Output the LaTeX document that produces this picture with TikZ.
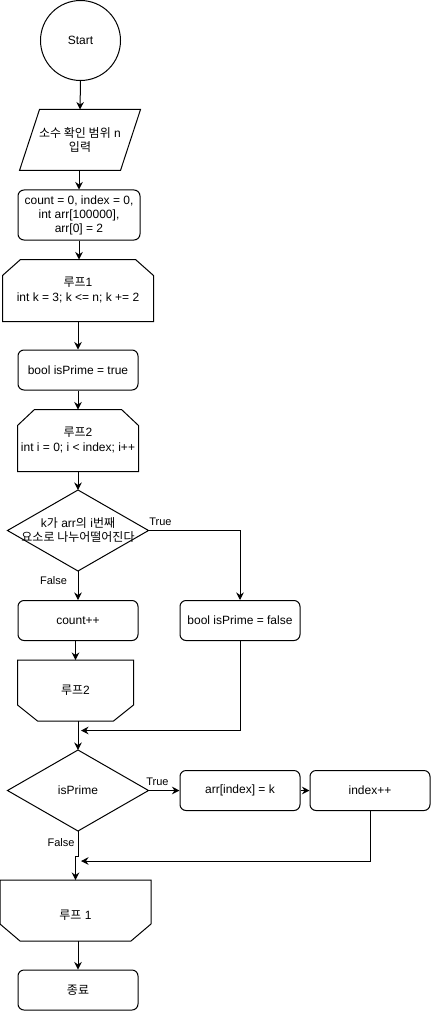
\documentclass[tikz,border=0pt]{standalone}
\usepackage{fontspec}
\setmainfont{Liberation Sans}
\newfontfamily\kr{Noto Sans CJK KR}
\newcommand\K[1]{{\kr #1}}
\usetikzlibrary{arrows.meta}
\begin{document}
\begin{tikzpicture}[x=1pt,y=-1pt,line width=1pt,
  txt/.style={font=\fontsize{12}{14}\selectfont,align=center,inner sep=1pt},
  proc/.style={txt,draw,rounded corners=6pt,minimum width=120pt,minimum height=40pt},
  lbl/.style={font=\fontsize{11}{13}\selectfont,inner sep=0pt},
  arr/.style={-{Stealth[length=7.5pt,width=7.5pt,inset=2.5pt]}},
  shp/.style={draw,line join=miter}]
\useasboundingbox (0,0) rectangle (431,1011);

% Start
\node[txt,circle,draw,minimum size=80pt,inner sep=0pt] (start) at (80.5,40.5) {Start};

% input parallelogram
\node[txt,minimum width=120pt,minimum height=60pt] (inp) at (80,140) {\K{소수 확인 범위} n\\\K{입력}};
\draw[shp] (inp.south west) -- ([xshift=20pt]inp.north west) -- (inp.north east) -- ([xshift=-20pt]inp.south east) -- cycle;

% init
\node[proc,minimum width=122pt,minimum height=50pt] (init) at (79,215) {count = 0, index = 0,\\int arr[100000],\\arr[0] = 2};

% loop1 start
\node[txt,minimum width=150pt,minimum height=61pt] (l1) at (78,290.5) {\K{루프}1\\[1pt]int k = 3; k <= n; k += 2};
\draw[shp] ([yshift=-16pt]l1.north west) -- ([xshift=18pt]l1.north west) -- ([xshift=-18pt]l1.north east) -- ([yshift=-16pt]l1.north east) -- (l1.south east) -- (l1.south west) -- cycle;

% bool isPrime = true
\node[proc] (b1) at (78,370) {bool isPrime = true};

% loop2 start
\node[txt,minimum width=120pt,minimum height=61pt] (l2) at (78,440.5) {\K{루프}2\\[1pt]int i = 0; i < index; i++};
\draw[shp] ([yshift=-16pt]l2.north west) -- ([xshift=17pt]l2.north west) -- ([xshift=-17pt]l2.north east) -- ([yshift=-16pt]l2.north east) -- (l2.south east) -- (l2.south west) -- cycle;

% decision 1
\node[txt,minimum width=140pt,minimum height=80pt] (d1) at (78,530.5) {k\K{가} arr\K{의} i\K{번째}\\\K{요소로 나누어떨어진다}};
\draw[shp] (d1.north) -- (d1.east) -- (d1.south) -- (d1.west) -- cycle;

% branches
\node[proc] (pf) at (240,620.5) {bool isPrime = false};
\node[proc] (cnt) at (78,620.5) {count++};

% loop2 end
\node[txt,minimum width=115pt,minimum height=60pt] (l2e) at (75.5,690.5) {\K{루프}2};
\draw[shp] (l2e.north west) -- (l2e.north east) -- ([yshift=16pt]l2e.south east) -- ([xshift=-20pt]l2e.south east) -- ([xshift=20pt]l2e.south west) -- ([yshift=16pt]l2e.south west) -- cycle;

% decision 2
\node[txt,minimum width=140pt,minimum height=80pt] (d2) at (78,790.5) {isPrime};
\draw[shp] (d2.north) -- (d2.east) -- (d2.south) -- (d2.west) -- cycle;

\node[proc] (ar) at (240,790.5) {arr[index] = k};
\node[proc] (inc) at (370,790.5) {index++};

% loop1 end
\node[txt,minimum width=150pt,minimum height=60pt] (l1e) at (75.5,910.5) {};
\node[txt] (l1et) at ([yshift=-5pt]l1e.center) {\K{루프} 1};
\draw[shp] (l1e.north west) -- (l1e.north east) -- ([yshift=17pt]l1e.south east) -- ([xshift=-20pt]l1e.south east) -- ([xshift=20pt]l1e.south west) -- ([yshift=17pt]l1e.south west) -- cycle;

% end
\node[proc] (fin) at (78,990) {\K{종료}};

% junction coordinates
\coordinate (j1) at (81,730.5);
\coordinate (j2) at (81,861);
\coordinate (jog) at (77,856);

% connectors
\draw[arr] (start.south) -- (inp.north);
\draw[arr] (inp.south -| init.north) -- (init.north);
\draw[arr] (init.south) -- (init.south |- l1.north);
\draw[arr] (l1.south) -- (b1.north);
\draw[arr] (b1.south) -- (l2.north);
\draw[arr] (l2.south) -- (d1.north);
\draw[arr] (d1.east) -| (pf.north);
\draw[arr] (d1.south) -- (cnt.north);
\draw[arr] (cnt.south -| l2e.north) -- (l2e.north);
\draw[arr] (d2.north |- l2e.south) -- (d2.north);
\draw[arr] (pf.south) |- (j1);
\draw[arr] (d2.east) -- (ar.west);
\draw[arr] (ar.east) -- (inc.west);
\draw[arr] (inc.south) |- (j2);
\draw[arr] (d2.south) |- (jog) -| (l1e.north);
\draw[arr] (fin.north |- l1e.south) -- (fin.north);

% labels
\node[lbl] (t1) at (160.5,521.5) {True};
\node[lbl] (f1) at (53.5,581) {False};
\node[lbl] (t2) at (157.5,782) {True};
\node[lbl] (f2) at (61,843) {False};
\end{tikzpicture}
\end{document}
